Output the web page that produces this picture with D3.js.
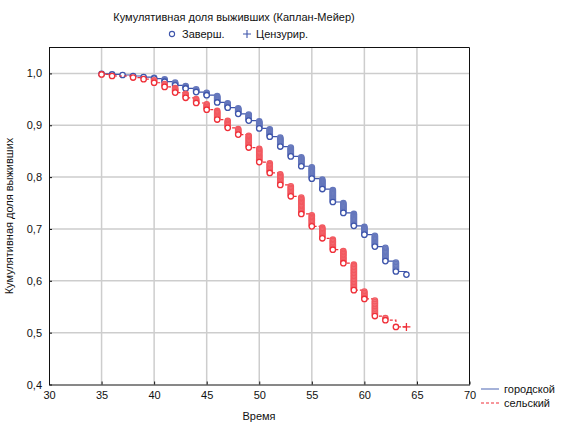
<!DOCTYPE html>
<html lang="ru">
<head>
<meta charset="UTF-8" />
<title>Каплан-Мейер</title>
<style>
  body { margin: 0; background: #fff; }
  text { font-family: "Liberation Sans", Arial, sans-serif; fill: #111; }
</style>
</head>
<body>
<svg id="chart" width="563" height="424"></svg>
<script src="https://cdn.jsdelivr.net/npm/d3@7"></script>
<script>
// городской
const urbanTimes = [35, 36, 37, 38, 39, 40, 41, 42, 43, 44, 45, 46, 47, 48, 49,
  50, 51, 52, 53, 54, 55, 56, 57, 58, 59, 60, 61, 62, 63, 64];
const urbanSurv = [0.999, 0.998, 0.997, 0.995, 0.993, 0.990, 0.984, 0.977, 0.971, 0.964,
  0.958, 0.944, 0.934, 0.922, 0.909, 0.894, 0.878, 0.859, 0.840, 0.821,
  0.797, 0.777, 0.752, 0.731, 0.706, 0.689, 0.666, 0.638, 0.618, 0.612];
const urbanDeaths = [1, 1, 1, 1, 1, 2, 4, 4, 4, 4, 4, 8, 6, 8, 8,
  9, 9, 10, 10, 10, 12, 10, 12, 10, 12, 8, 10, 11, 7, 1];

// сельский
const ruralTimes = [35, 36, 38, 39, 40, 41, 42, 43, 44, 45, 46, 47, 48, 49,
  50, 51, 52, 53, 54, 55, 56, 57, 58, 59, 60, 61, 62, 63];
const ruralSurv = [0.998, 0.995, 0.992, 0.989, 0.982, 0.974, 0.963, 0.953, 0.943, 0.930,
  0.911, 0.895, 0.882, 0.857, 0.829, 0.808, 0.785, 0.763, 0.729, 0.705,
  0.682, 0.660, 0.634, 0.582, 0.565, 0.532, 0.524, 0.511];
const ruralDeaths = [1, 1, 1, 1, 3, 3, 5, 4, 4, 5, 8, 6, 6, 10,
  11, 8, 9, 8, 13, 9, 9, 8, 9, 18, 6, 10, 2, 1];
const ruralCensored = [64];

const xTicks = [30, 35, 40, 45, 50, 55, 60, 65, 70];
const yTicks = [0.4, 0.5, 0.6, 0.7, 0.8, 0.9, 1.0];

const blue = "#3e55ab";
const red = "#ef2f38";

const svg = d3.select("#chart");
const x = d3.scaleLinear().domain([30, 70]).range([49, 469.5]);
const y = d3.scaleLinear().domain([0.4, 1.05]).range([384.5, 47.5]);
const fmt = v => d3.format(".1f")(v).replace(".", ",");

// grid
svg.append("g").selectAll("line").data(xTicks.slice(1, -1)).join("line")
  .attr("x1", d => x(d)).attr("x2", d => x(d))
  .attr("y1", y.range()[1]).attr("y2", y.range()[0])
  .attr("stroke", "#cdcdcd").attr("stroke-width", 1.5);
svg.append("g").selectAll("line").data(yTicks.slice(1)).join("line")
  .attr("x1", x.range()[0]).attr("x2", x.range()[1])
  .attr("y1", d => y(d)).attr("y2", d => y(d))
  .attr("stroke", "#cdcdcd").attr("stroke-width", 1.5);

// axes
const xAxis = svg.append("g").attr("transform", `translate(0,${y.range()[0]})`)
  .call(d3.axisBottom(x).tickValues(xTicks).tickSizeInner(-3).tickSizeOuter(0).tickPadding(7));
const yAxis = svg.append("g").attr("transform", `translate(${x.range()[0]},0)`)
  .call(d3.axisLeft(y).tickValues(yTicks).tickFormat(fmt).tickSizeInner(-3).tickSizeOuter(0).tickPadding(7));
[xAxis, yAxis].forEach(a => {
  a.selectAll("text").style("font-size", "11px").attr("fill", "#111");
  a.select(".domain").attr("stroke", "#111");
  a.selectAll(".tick line").attr("stroke", "#111");
});
// top & right frame
svg.append("path")
  .attr("d", `M${x.range()[0]},${y.range()[1]}H${x.range()[1]}V${y.range()[0]}`)
  .attr("fill", "none").attr("stroke", "#111");

function stepPath(times, surv, endTime) {
  const p = d3.path();
  p.moveTo(x(times[0]), y(1));
  let prev = 1;
  times.forEach((t, i) => {
    p.lineTo(x(t), y(prev));
    p.lineTo(x(t), y(surv[i]));
    prev = surv[i];
  });
  if (endTime != null) p.lineTo(x(endTime), y(prev));
  return p.toString();
}

function drawGroup(times, surv, deaths, color, dash, censored) {
  const g = svg.append("g");
  const tint = d3.interpolateRgb("#fff", color)(0.55);
  const edge = d3.interpolateRgb("#fff", color)(0.8);
  g.append("path")
    .attr("d", stepPath(times, surv, censored ? censored[0] : null))
    .attr("fill", "none").attr("stroke", color).attr("stroke-width", 1.2)
    .attr("stroke-dasharray", dash);
  const pts = [];
  times.forEach((t, i) => {
    const prev = i === 0 ? 1 : surv[i - 1];
    for (let k = 1; k <= deaths[i]; k++) {
      pts.push({ t, s: prev - (prev - surv[i]) * k / deaths[i], last: k === deaths[i] });
    }
  });
  g.selectAll("circle").data(pts).join("circle")
    .attr("cx", d => x(d.t)).attr("cy", d => y(d.s)).attr("r", 2.7)
    .attr("fill", d => d.last ? "#fff" : tint)
    .attr("stroke", d => d.last ? color : edge).attr("stroke-width", 1.3);
  if (censored) {
    const last = surv[surv.length - 1];
    g.selectAll("path.cens").data(censored).join("path").attr("class", "cens")
      .attr("d", d => `M${x(d) - 4},${y(last)}H${x(d) + 4}M${x(d)},${y(last) - 4}V${y(last) + 4}`)
      .attr("stroke", color).attr("stroke-width", 1.3);
  }
}

drawGroup(urbanTimes, urbanSurv, urbanDeaths, blue, null, null);
drawGroup(ruralTimes, ruralSurv, ruralDeaths, red, "3,2", ruralCensored);

// title & top legend
svg.append("text").attr("x", 234).attr("y", 21).attr("text-anchor", "middle")
  .style("font-size", "11px").text("Кумулятивная доля выживших (Каплан-Мейер)");
svg.append("circle").attr("cx", 172).attr("cy", 34).attr("r", 2.6)
  .attr("fill", "#fff").attr("stroke", blue).attr("stroke-width", 1.1);
svg.append("text").attr("x", 182).attr("y", 38).style("font-size", "11px").text("Заверш.");
svg.append("path").attr("d", "M243,34H251M247,30V38").attr("stroke", blue).attr("stroke-width", 1.1);
svg.append("text").attr("x", 256).attr("y", 38).style("font-size", "11px").text("Цензурир.");

// axis titles
svg.append("text").attr("x", 259).attr("y", 420).attr("text-anchor", "middle")
  .style("font-size", "11px").text("Время");
svg.append("text").attr("transform", "translate(13,216) rotate(-90)").attr("text-anchor", "middle")
  .style("font-size", "11px").text("Кумулятивная доля выживших");

// bottom-right legend
const groups = [
  { name: "городской", color: "#6a7fc0", dash: null },
  { name: "сельский", color: red, dash: "3,2" }
];
const lg = svg.append("g").attr("transform", "translate(481,389)");
groups.forEach((d, i) => {
  lg.append("line").attr("x1", 0).attr("x2", 18).attr("y1", i * 14).attr("y2", i * 14)
    .attr("stroke", d.color).attr("stroke-width", 1.2).attr("stroke-dasharray", d.dash);
  lg.append("text").attr("x", 23).attr("y", i * 14 + 4).style("font-size", "11px").text(d.name);
});
</script>
</body>
</html>
